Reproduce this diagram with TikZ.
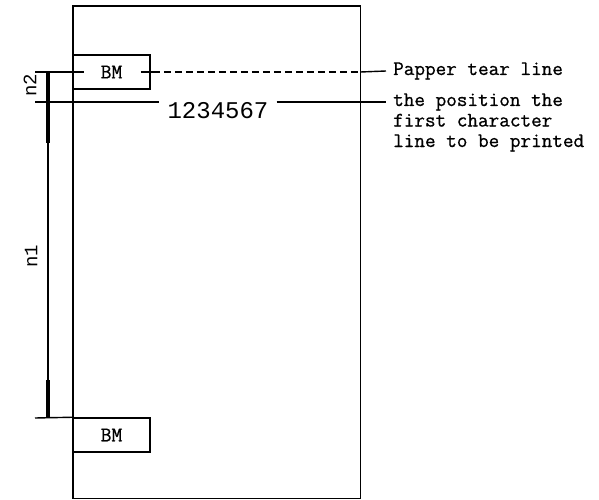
\documentclass[tikz,border=0pt]{standalone}
\usepackage{fontspec}
\newfontfamily\notefont[FakeBold=0.8]{Latin Modern Mono}
\newfontfamily\markfont{Liberation Mono}
\usetikzlibrary{positioning}

\tikzset{
    paper/.style = {line width=1.6pt},
    markbox/.style = {draw, line width=1.5pt, minimum width=77pt, minimum height=34pt,
        inner sep=0pt, font=\notefont\fontsize{21}{24}\selectfont},
    leader/.style = {line width=1.4pt},
    dimthin/.style = {line width=1.4pt},
    dimthick/.style = {line width=3.2pt},
    note/.style = {anchor=west, inner xsep=7pt, inner ysep=0pt, text height=11pt, text depth=3pt,
        font=\notefont\fontsize{20.6}{23}\selectfont},
    dimlabel/.style = {rotate=90, inner sep=0pt, font=\markfont\fontsize{19}{22}\selectfont},
}

\begin{document}
\begin{tikzpicture}[x = 1pt, y = -1pt]
    \useasboundingbox (0,0) rectangle (599,500);
    % paper
    \draw[paper] (73,6) rectangle (360.5,498.5);
    \node[markbox] (BM1) at (111.5,72) {BM};
    \node[markbox] (BM2) at (111.5,435) {BM};
    \node[anchor=north, inner xsep=8pt, inner ysep=0pt, text height=16pt, text depth=0pt,
        font=\markfont\fontsize{24}{28}\selectfont] (DIG) at (218,102) {1234567};
    % notes
    \node[note] (TEAR) at (386,71) {Papper tear line};
    \node[note] (POS1) at (386,102) {the position the};
    \node[note] (POS2) at (386,122.5) {first character};
    \node[note] (POS3) at (386,143) {line to be printed};
    % ends of leaders and dimensions
    \coordinate (TL) at (35,72);
    \coordinate (TR) at (360.5,72);
    \coordinate (PL) at (35,102);
    \coordinate (BL) at (35,418);
    \coordinate (D1) at (48,72);
    \coordinate (D2) at (48,102);
    \coordinate (D3) at (48,143);
    \coordinate (D4) at (48,380);
    \coordinate (D5) at (48,418);
    % tear line
    \draw[leader] (TL) -- ([xshift=12pt]BM1.west);
    \draw[leader] ([xshift=-10pt]BM1.east) -- ([xshift=2pt]BM1.east);
    \draw[leader, dash pattern=on 7pt off 4pt] ([xshift=2pt]BM1.east) -- (TR);
    \draw[leader] (TR) -- (TEAR.west);
    % print line
    \draw[leader] (PL) -- (DIG.north west);
    \draw[leader] (DIG.north east) -- (POS1.west);
    \draw[leader] (BL) -- (BM2.north west);
    % dimensions
    \draw[dimthick] (D1) -- (D3);
    \draw[dimthin] (D3) -- (D4);
    \draw[dimthick] (D4) -- (D5);
    \node[dimlabel] (N2) at (30,85) {n2};
    \node[dimlabel] (N1) at (31,256) {n1};
\end{tikzpicture}
\end{document}
